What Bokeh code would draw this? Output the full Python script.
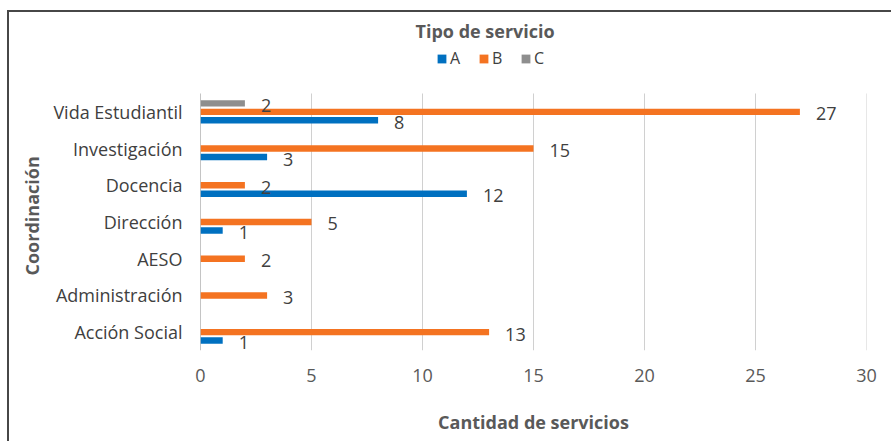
from bokeh.plotting import figure
from bokeh.models import ColumnDataSource, Range1d, Legend, LegendItem, FixedTicker, Title
from bokeh.transform import dodge
from bokeh.embed import file_html
from bokeh.resources import INLINE
from bokeh.core.properties import value

categories = ["Acción Social", "Administración", "AESO", "Dirección",
              "Docencia", "Investigación", "Vida Estudiantil"]
series_names = ["A", "B", "C"]
values_a = [1, 0, 0, 1, 12, 3, 8]
values_b = [13, 3, 2, 5, 2, 15, 27]
values_c = [0, 0, 0, 0, 0, 0, 2]
x_ticks = [0, 5, 10, 15, 20, 25, 30]

colors = {"A": "#0070C0", "B": "#F47321", "C": "#8E8E8E"}
offsets = {"A": -0.23, "B": 0.0, "C": 0.23}
FONT = "Open Sans"

n = len(categories)
ypos = list(range(n))
lo, hi = -0.5, n - 0.5          # extent of the category band
top_room = 1.307                # space above the bands for the legend

p = figure(width=884, height=431,
           y_range=Range1d(lo, hi + top_room),
           x_range=Range1d(x_ticks[0], x_ticks[-1]),
           output_backend="svg", toolbar_location=None,
           min_border_left=191, min_border_right=27,
           min_border_top=33, min_border_bottom=93)
p.styles = {"margin-left": "7px", "margin-top": "10px",
            "border-left": "2px solid #474747", "border-top": "2px solid #474747"}
p.outline_line_color = None
p.background_fill_color = "white"
p.border_fill_color = "white"

p.title.text = "Tipo de servicio"
p.title.align = "left"
p.title.offset = 215
p.title.standoff = 6
p.title.text_font = FONT
p.title.text_font_size = "18px"
p.title.text_font_style = "bold"
p.title.text_color = "#595959"

# grid lines and category axis line, limited to the category band
grid_x = x_ticks[1:]
p.segment(x0=grid_x, x1=grid_x, y0=[lo] * len(grid_x), y1=[hi] * len(grid_x),
          line_color="#D0D0D0", line_width=1)
p.segment(x0=[x_ticks[0]], x1=[x_ticks[0]], y0=[lo], y1=[hi],
          line_color="#8A8A8A", line_width=1)

items = []
for name, vals in zip(series_names, [values_a, values_b, values_c]):
    ys = [y for y, v in zip(ypos, vals) if v > 0]
    vs = [v for v in vals if v > 0]
    src = ColumnDataSource(dict(y=ys, val=vs, lab=[str(v) for v in vs]))
    yd = dodge("y", offsets[name])
    r = p.hbar(y=yd, left=0, right="val", height=0.175, source=src,
               fill_color=colors[name], line_color=None)
    p.text(x="val", y=yd, text="lab", source=src, x_offset=16, y_offset=2,
           text_baseline="middle", text_align="left",
           text_font=value(FONT), text_font_size="18px", text_color="#404040")
    items.append(LegendItem(label=name, renderers=[r]))

legend = Legend(items=items, orientation="horizontal", location=(236, 281),
                glyph_width=11, glyph_height=11, label_standoff=3, spacing=8,
                padding=0, margin=0, border_line_color=None,
                background_fill_alpha=0,
                label_text_font=FONT, label_text_font_size="16px",
                label_text_color="#404040")
p.add_layout(legend)

p.xaxis.ticker = FixedTicker(ticks=x_ticks)
p.xaxis.axis_line_color = None
p.xaxis.major_tick_line_color = None
p.xaxis.minor_tick_line_color = None
p.xaxis.major_label_standoff = 12
p.xaxis.major_label_text_font = FONT
p.xaxis.major_label_text_font_size = "18px"
p.xaxis.major_label_text_color = "#595959"
p.xaxis.axis_label = "Cantidad de servicios"
p.xaxis.axis_label_standoff = 25
p.xaxis.axis_label_text_font = FONT
p.xaxis.axis_label_text_font_size = "18px"
p.xaxis.axis_label_text_font_style = "bold"
p.xaxis.axis_label_text_color = "#595959"

p.yaxis.ticker = FixedTicker(ticks=ypos)
p.yaxis.major_label_overrides = {y: c for y, c in zip(ypos, categories)}
p.yaxis.axis_line_color = None
p.yaxis.major_tick_line_color = None
p.yaxis.minor_tick_line_color = None
p.yaxis.major_label_standoff = 12
p.yaxis.major_label_text_font = FONT
p.yaxis.major_label_text_font_size = "18px"
p.yaxis.major_label_text_color = "#404040"

ytitle = Title(text="Coordinación", align="left", offset=75, standoff=13,
               text_font=FONT, text_font_size="18px", text_font_style="bold",
               text_color="#595959")
p.add_layout(ytitle, "left")

p.xgrid.grid_line_color = None
p.ygrid.grid_line_color = None

open("out.html", "w").write(file_html(p, INLINE))
